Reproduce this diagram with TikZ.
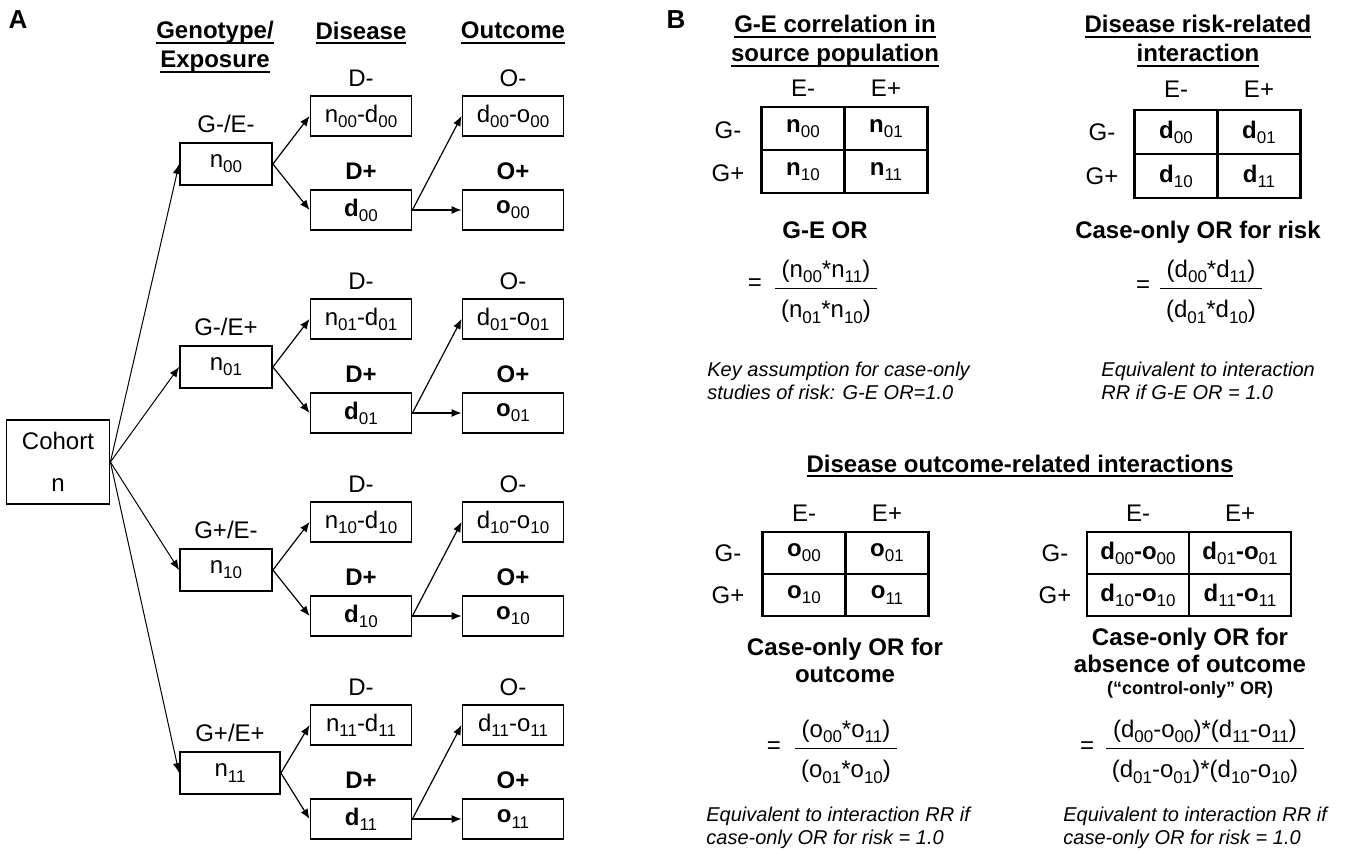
\documentclass[tikz,border=0pt]{standalone}
\usepackage{fontspec}
\setmainfont{Liberation Sans}
\usetikzlibrary{arrows.meta}
\setlength{\arrayrulewidth}{0.6pt}

\newcommand{\ulhead}[1]{\setbox0\hbox{\bfseries #1}\rlap{\rule[-2.4pt]{\wd0}{0.9pt}}\box0}
\newcommand{\sbs}[1]{\raisebox{-2.6pt}{\fontsize{8.5}{9}\selectfont\mdseries #1}}
\newcommand{\ratio}[2]{\begin{tabular}{@{\hspace{3pt}}c@{\hspace{3pt}}}#1\\[1pt]\hline\rule{0pt}{14.5pt}#2\end{tabular}}

\tikzset{
  box/.style={draw, line width=0.9pt, minimum width=50.5pt, minimum height=20pt, inner sep=0pt, font=\fontsize{12}{14}\selectfont},
  gbox/.style={box, minimum width=46pt, minimum height=21pt},
  lab/.style={inner sep=0pt, font=\fontsize{12}{14}\selectfont},
  blab/.style={inner sep=0pt, align=center, font=\fontsize{12}{14.5}\selectfont\bfseries},
  cell/.style={draw, line width=1.1pt, minimum width=41.5pt, minimum height=21.5pt, inner sep=0pt, font=\fontsize{12}{14}\selectfont\bfseries},
  note/.style={anchor=west, align=left, inner sep=0pt, font=\fontsize{10}{11.5}\selectfont\itshape},
  arr/.style={-{Latex[length=5pt,width=4pt]}, line width=0.6pt}
}

\begin{document}
\begin{tikzpicture}[x=0.5pt,y=-0.5pt]
\useasboundingbox (0,0) rectangle (1345,850);
%
% panel A
\node[lab, font=\fontsize{13}{15}\selectfont\bfseries](tagA) at (18,20) {A};
\node[blab](hgeno) at (215,47) {\ulhead{Genotype/}\\\ulhead{Exposure}};
\node[blab](hdis) at (361,33) {\ulhead{Disease}};
\node[blab](hout) at (513,33) {\ulhead{Outcome}};
\node[box, minimum width=51.5pt, minimum height=42pt, align=center](cohort) at (58,462) {Cohort\\[7pt]n};
%
% G-/E-
\node[lab](lg00) at (226,124) {G-/E-};
\node[gbox](n00) at (226,164) {n\sbs{00}};
\node[lab](ldm00) at (361,78) {D-};
\node[box](dm00) at (361,116) {n\sbs{00}-d\sbs{00}};
\node[lab,font=\fontsize{12}{14}\selectfont\bfseries](ldp00) at (361,171) {D+};
\node[box,font=\fontsize{12}{14}\selectfont\bfseries](dp00) at (361,210) {d\sbs{00}};
\node[lab](lom00) at (513,78) {O-};
\node[box](om00) at (513,116) {d\sbs{00}-o\sbs{00}};
\node[lab,font=\fontsize{12}{14}\selectfont\bfseries](lop00) at (513,171) {O+};
\node[box,font=\fontsize{12}{14}\selectfont\bfseries](op00) at (513,210) {o\sbs{00}};
%
% G-/E+
\node[lab](lg01) at (226,327) {G-/E+};
\node[gbox](n01) at (226,367) {n\sbs{01}};
\node[lab](ldm01) at (361,281) {D-};
\node[box](dm01) at (361,319) {n\sbs{01}-d\sbs{01}};
\node[lab,font=\fontsize{12}{14}\selectfont\bfseries](ldp01) at (361,374) {D+};
\node[box,font=\fontsize{12}{14}\selectfont\bfseries](dp01) at (361,413) {d\sbs{01}};
\node[lab](lom01) at (513,281) {O-};
\node[box](om01) at (513,319) {d\sbs{01}-o\sbs{01}};
\node[lab,font=\fontsize{12}{14}\selectfont\bfseries](lop01) at (513,374) {O+};
\node[box,font=\fontsize{12}{14}\selectfont\bfseries](op01) at (513,413) {o\sbs{01}};
%
% G+/E-
\node[lab](lg10) at (226,530) {G+/E-};
\node[gbox](n10) at (226,570) {n\sbs{10}};
\node[lab](ldm10) at (361,484) {D-};
\node[box](dm10) at (361,522) {n\sbs{10}-d\sbs{10}};
\node[lab,font=\fontsize{12}{14}\selectfont\bfseries](ldp10) at (361,577) {D+};
\node[box,font=\fontsize{12}{14}\selectfont\bfseries](dp10) at (361,616) {d\sbs{10}};
\node[lab](lom10) at (513,484) {O-};
\node[box](om10) at (513,522) {d\sbs{10}-o\sbs{10}};
\node[lab,font=\fontsize{12}{14}\selectfont\bfseries](lop10) at (513,577) {O+};
\node[box,font=\fontsize{12}{14}\selectfont\bfseries](op10) at (513,616) {o\sbs{10}};
%
% G+/E+
\node[lab](lg11) at (230,733) {G+/E+};
\node[gbox, minimum width=50pt](n11) at (230,773) {n\sbs{11}};
\node[lab](ldm11) at (361,687) {D-};
\node[box](dm11) at (361,725) {n\sbs{11}-d\sbs{11}};
\node[lab,font=\fontsize{12}{14}\selectfont\bfseries](ldp11) at (361,780) {D+};
\node[box,font=\fontsize{12}{14}\selectfont\bfseries](dp11) at (361,819) {d\sbs{11}};
\node[lab](lom11) at (513,687) {O-};
\node[box](om11) at (513,725) {d\sbs{11}-o\sbs{11}};
\node[lab,font=\fontsize{12}{14}\selectfont\bfseries](lop11) at (513,780) {O+};
\node[box,font=\fontsize{12}{14}\selectfont\bfseries](op11) at (513,819) {o\sbs{11}};
%
\draw[arr, line width=0.5pt](cohort.east) -- (n00.west);
\draw[arr, line width=0.5pt](cohort.east) -- (n01.west);
\draw[arr, line width=0.5pt](cohort.east) -- (n10.west);
\draw[arr, line width=0.5pt](cohort.east) -- (n11.west);
\foreach \g in {00,01,10,11}{
  \draw[arr](n\g.east) -- (dm\g.west);
  \draw[arr](n\g.east) -- (dp\g.west);
  \draw[arr](dp\g.east) -- (om\g.west);
  \draw[arr](dp\g.east) -- (op\g.west);
}
%
% panel B, G-E correlation
\node[lab, font=\fontsize{13}{15}\selectfont\bfseries](tagB) at (676,20) {B};
\node[blab](hcor) at (835,41) {\ulhead{G-E correlation in}\\\ulhead{source population}};
\node[lab](ce0) at (803,88) {E-};
\node[lab](ce1) at (886,88) {E+};
\node[lab](cg0) at (728,130) {G-};
\node[lab](cg1) at (728,173) {G+};
\node[cell](c00) at (803,128.5) {n\sbs{00}};
\node[cell](c01) at (886,128.5) {n\sbs{01}};
\node[cell](c10) at (803,171.5) {n\sbs{10}};
\node[cell](c11) at (886,171.5) {n\sbs{11}};
\node[blab](cor) at (825,230) {G-E OR};
\node[lab](ceq) at (755,285) {=};
\node[lab](cfrac) at (826,292) {\ratio{(n\sbs{00}*n\sbs{11})}{(n\sbs{01}*n\sbs{10})}};
\node[note](cnote) at (707,381) {Key assumption for case-only\\studies of risk: G-E OR=1.0};
%
% panel B, risk interaction
\node[blab](hrisk) at (1198,41) {\ulhead{Disease risk-related}\\\ulhead{interaction}};
\node[lab](re0) at (1176,89) {E-};
\node[lab](re1) at (1259,89) {E+};
\node[lab](rg0) at (1102,132) {G-};
\node[lab](rg1) at (1102,176) {G+};
\node[cell, minimum height=22pt](r00) at (1176,132) {d\sbs{00}};
\node[cell, minimum height=22pt](r01) at (1259,132) {d\sbs{01}};
\node[cell, minimum height=22pt](r10) at (1176,176) {d\sbs{10}};
\node[cell, minimum height=22pt](r11) at (1259,176) {d\sbs{11}};
\node[blab](ror) at (1198,232) {Case-only OR for risk};
\node[lab](req) at (1143,287) {=};
\node[lab](rfrac) at (1211,292) {\ratio{(d\sbs{00}*d\sbs{11})}{(d\sbs{01}*d\sbs{10})}};
\node[note](rnote) at (1101,381) {Equivalent to interaction\\RR if G-E OR = 1.0};
%
% panel B, outcome interactions
\node[blab](hout2) at (1020,466) {\ulhead{Disease outcome-related interactions}};
\node[lab](oe0) at (804,513) {E-};
\node[lab](oe1) at (887,513) {E+};
\node[lab](og0) at (728,553) {G-};
\node[lab](og1) at (728,595) {G+};
\node[cell, minimum height=21pt](o00) at (804,553) {o\sbs{00}};
\node[cell, minimum height=21pt](o01) at (887,553) {o\sbs{01}};
\node[cell, minimum height=21pt](o10) at (804,595) {o\sbs{10}};
\node[cell, minimum height=21pt](o11) at (887,595) {o\sbs{11}};
\node[blab, font=\fontsize{12}{13.5}\selectfont\bfseries](oor) at (845,660) {Case-only OR for\\outcome};
\node[lab](oeq) at (774,748) {=};
\node[lab](ofrac) at (846,752) {\ratio{(o\sbs{00}*o\sbs{11})}{(o\sbs{01}*o\sbs{10})}};
\node[note](onote) at (706,828) {Equivalent to interaction RR if\\case-only OR for risk = 1.0};
%
\node[lab](ae0) at (1138,513) {E-};
\node[lab](ae1) at (1240,513) {E+};
\node[lab](ag0) at (1055,553) {G-};
\node[lab](ag1) at (1055,595) {G+};
\node[cell, minimum width=51pt, minimum height=21pt](a00) at (1138,553) {d\sbs{00}-o\sbs{00}};
\node[cell, minimum width=51pt, minimum height=21pt](a01) at (1240,553) {d\sbs{01}-o\sbs{01}};
\node[cell, minimum width=51pt, minimum height=21pt](a10) at (1138,595) {d\sbs{10}-o\sbs{10}};
\node[cell, minimum width=51pt, minimum height=21pt](a11) at (1240,595) {d\sbs{11}-o\sbs{11}};
\node[blab, font=\fontsize{12}{13.5}\selectfont\bfseries](aor) at (1190,650) {Case-only OR for\\absence of outcome};
\node[blab, font=\fontsize{9}{11}\selectfont\bfseries](actl) at (1190,690) {(“control-only” OR)};
\node[lab](aeq) at (1087,748) {=};
\node[lab](afrac) at (1205,752) {\ratio{(d\sbs{00}-o\sbs{00})*(d\sbs{11}-o\sbs{11})}{(d\sbs{01}-o\sbs{01})*(d\sbs{10}-o\sbs{10})}};
\node[note](anote) at (1063,828) {Equivalent to interaction RR if\\case-only OR for risk = 1.0};
\end{tikzpicture}
\end{document}
